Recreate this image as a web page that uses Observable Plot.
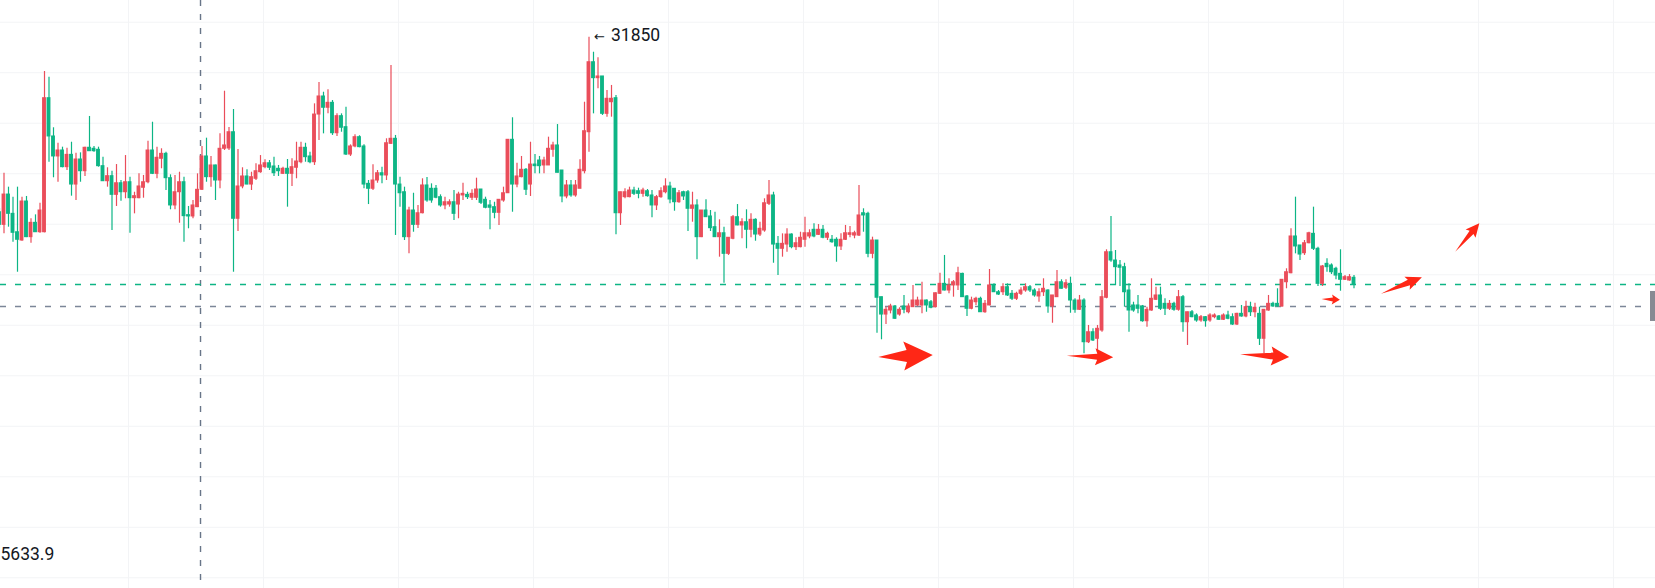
<!DOCTYPE html>
<html><head><meta charset="utf-8">
<script src="https://cdn.jsdelivr.net/npm/d3@7"></script>
<script src="https://cdn.jsdelivr.net/npm/@observablehq/plot@0.6"></script>
<style>html,body{margin:0;padding:0;background:#fff;overflow:hidden;} #chart svg{display:block;}</style>
</head><body><div id="chart"></div>
<script>
// ---- data (candle index, prices) ----
const firstIndex = -1;
const opens = [30119,29994,30294,30103,29921,29839,30225,29872,30014,29921,29921,
31248,30869,30671,30730,30565,30687,30393,30641,30525,30757,
30747,30737,30575,30426,30476,30291,30406,30317,30416,30258,
30258,30361,30416,30730,30499,30648,30697,30456,30186,30317,
30416,30090,30077,30169,30341,30671,30466,30582,30433,30747,
30750,30911,30054,30374,30473,30393,30450,30515,30565,30604,
30572,30549,30499,30549,30499,30559,30614,30757,30671,30614,
31086,31265,31153,31202,30901,31070,30961,30690,30770,30862,
30770,30400,30351,30433,30505,30483,30796,30846,30393,30317,
29872,30136,29994,30109,30384,30351,30351,30268,30186,30195,
30218,30195,30285,30291,30262,30262,30344,30242,30186,30169,
30113,30235,30307,30836,30393,30466,30539,30393,30591,30631,
30582,30582,30737,30780,30532,30275,30384,30285,30351,30525,
30911,31604,31446,31463,31093,31208,31248,30109,30268,30268,
30334,30327,30301,30327,30285,30186,30268,30317,30374,30351,
30218,30317,30317,30153,30186,29872,30136,30077,29971,29872,
29911,29707,29856,30070,29988,30020,29945,30044,29898,29938,
30202,30285,29806,29757,29799,29898,29773,29773,29846,29879,
29945,29895,29945,29866,29846,29846,29780,29846,29895,29888,
29888,30109,30103,29707,29839,29278,29106,29146,29186,29106,
29186,29129,29179,29196,29196,29245,29228,29179,29311,29410,
29344,29394,29394,29509,29285,29163,29228,29262,29129,29196,
29394,29327,29327,29377,29311,29262,29311,29344,29377,29344,
29285,29327,29344,29186,29278,29426,29371,29410,29245,29153,
29245,28832,28931,28866,28948,29272,29723,29641,29592,29575,
29344,29196,29196,29186,29040,29146,29252,29295,29212,29163,
29212,29153,29278,29030,29129,29097,29047,29080,29047,29080,
29087,29054,29097,29080,29007,29113,29087,29179,29129,29113,
28866,29146,29212,29212,29186,29426,29515,29879,29790,29713,
29812,29905,29757,29410,29608,29592,29559,29509,29450,29443,29470];
const highs = [30156,30505,30367,30268,30367,30268,30275,30054,30093,30208,31512,
31456,30955,30802,30763,30753,30812,30703,30707,30763,31067,
30770,30763,30664,30559,30525,30591,30433,30680,30466,30317,
30499,30483,30822,31010,30763,30747,30713,30489,30483,30515,
30466,30176,30235,30499,30770,30852,30671,30585,30895,31317,
30958,31136,30740,30559,30539,30515,30598,30680,30638,30631,
30664,30582,30565,30641,30648,30812,30812,30802,30713,31192,
31403,31307,31331,31225,31093,31093,31159,30786,30885,30876,
30786,30433,30588,30532,30565,30846,31572,30879,30466,30367,
30169,30307,30186,30450,30463,30400,30384,30291,30268,30242,
30334,30317,30406,30317,30341,30456,30344,30268,30235,30218,
30245,30367,30840,31054,30604,30671,30552,30812,30690,30671,
30664,30862,30812,30987,30532,30433,30433,30433,30638,31208,
31850,31703,31648,31463,31324,31374,31275,30317,30351,30367,
30367,30357,30357,30344,30334,30285,30361,30450,30416,30351,
30334,30327,30334,30317,30242,30136,30242,30136,30119,30044,
29971,29866,30087,30195,30054,30143,30103,30054,30020,30252,
30433,30317,29879,29905,29955,29905,29866,29921,30070,29945,
30004,29997,29988,29921,29889,29866,29905,29988,29978,29931,
30384,30153,30119,29872,29839,29278,29179,29208,29196,29173,
29295,29212,29394,29278,29426,29250,29245,29320,29515,29691,
29460,29443,29575,29515,29295,29278,29278,29278,29245,29552,
29410,29344,29410,29410,29344,29327,29371,29410,29394,29361,
29361,29460,29351,29295,29542,29450,29450,29476,29262,29295,
29262,28998,28965,28998,29344,29747,30077,29740,29641,29614,
29410,29228,29295,29196,29179,29460,29377,29377,29262,29245,
29228,29344,29295,29129,29146,29113,29097,29087,29113,29113,
29097,29113,29139,29113,29119,29196,29238,29228,29218,29179,
29153,29295,29228,29361,29450,29559,29955,30268,29790,29839,
29921,30169,29773,29592,29658,29608,29575,29747,29492,29502,29492];
const lows = [29958,29905,29971,29822,29525,29832,29868,29812,29918,29911,29915,
30614,30460,30416,30559,30532,30278,30235,30416,30473,30720,
30713,30565,30423,30367,29938,30176,30228,30252,29911,30103,
30252,30258,30400,30492,30450,30549,30334,30143,30143,30010,
29822,29955,30054,30165,30334,30416,30367,30235,30351,30730,
30730,29525,29928,30351,30390,30334,30433,30505,30549,30532,
30473,30473,30492,30169,30374,30450,30598,30614,30598,30582,
30829,30895,31093,30879,30869,30911,30680,30671,30757,30757,
30351,30195,30334,30406,30400,30433,30789,29889,30169,29839,
29707,29921,29958,30103,30218,30208,30252,30169,30143,30169,
30037,30054,30235,30245,30235,30235,30195,30153,29945,30054,
29988,30218,30304,30119,30361,30460,30285,30275,30499,30499,
30499,30582,30664,30509,30212,30252,30268,30268,30351,30499,
30713,31093,31341,31077,31060,31060,29895,29988,30252,30262,
30285,30252,30268,30268,30064,30136,30258,30301,30202,30129,
30208,30235,29928,30020,29648,29868,30068,29928,29868,29674,
29416,29691,29846,29985,29856,29757,29866,29832,29879,29921,
30186,29614,29493,29674,29723,29757,29740,29767,29773,29856,
29866,29889,29856,29839,29812,29624,29740,29839,29866,29856,
29879,29921,29668,29658,28921,28856,29007,29113,29057,29090,
29113,29113,29176,29186,29113,29129,29163,29173,29305,29340,
29311,29278,29344,29275,29087,29153,29196,29126,29119,29193,
29324,29295,29295,29285,29245,29245,29295,29327,29324,29278,
29228,29285,29119,29020,29275,29358,29354,29119,29119,29146,
28717,28819,28839,28730,28931,29262,29624,29394,29384,29179,
28931,29129,29113,29030,28981,29139,29245,29146,29097,29146,
29139,29139,28931,28800,29074,29030,29030,28981,29030,29064,
29047,29047,29054,28998,28998,29080,29074,29087,29074,28800,
28717,29139,29179,29179,29179,29361,29509,29707,29641,29691,
29806,29740,29384,29384,29525,29502,29450,29337,29443,29436,29361];
const closes = [29994,30294,30103,29915,29846,30225,29872,30014,29921,30136,31248,
30869,30671,30730,30565,30687,30393,30641,30525,30757,30723,
30723,30575,30426,30476,30291,30406,30317,30416,30258,30278,
30374,30416,30730,30499,30658,30697,30456,30186,30317,30416,
30080,30077,30186,30341,30671,30466,30582,30433,30747,30780,
30911,30054,30374,30473,30393,30466,30525,30582,30604,30559,
30505,30525,30549,30499,30565,30621,30757,30664,30614,31086,
31265,31153,31202,30901,31070,30955,30690,30770,30862,30763,
30393,30351,30433,30505,30483,30802,30846,30393,30307,29872,
30136,29994,30109,30384,30235,30235,30262,30186,30218,30218,
30103,30294,30301,30268,30301,30344,30212,30163,30163,30113,
30242,30307,30836,30393,30473,30539,30341,30591,30575,30575,
30631,30747,30780,30509,30275,30384,30285,30384,30539,30921,
31604,31446,31463,31093,31242,31242,30109,30317,30317,30334,
30301,30301,30334,30278,30186,30268,30327,30374,30245,30218,
30307,30275,30153,30186,29872,30136,30070,29961,29872,29911,
29707,29866,30070,29988,30020,29945,30044,29898,29955,30208,
30285,29799,29757,29806,29898,29773,29812,29866,29911,29911,
29879,29945,29866,29905,29822,29780,29846,29911,29911,29911,
30087,30087,29707,29839,29272,29106,29153,29186,29064,29153,
29153,29186,29245,29245,29245,29196,29173,29317,29410,29344,
29394,29426,29515,29278,29163,29245,29262,29129,29212,29394,
29327,29304,29377,29295,29262,29311,29344,29377,29344,29295,
29327,29361,29186,29295,29426,29361,29416,29245,29153,29245,
28832,28931,28849,28965,29278,29723,29641,29575,29569,29327,
29146,29146,29163,29040,29153,29262,29295,29163,29163,29212,
29153,29278,29030,29129,29080,29047,29080,29040,29097,29097,
29054,29097,29064,29007,29113,29087,29179,29129,29173,28866,
29153,29212,29186,29186,29450,29525,29879,29780,29700,29812,
29911,29757,29410,29582,29575,29525,29492,29450,29476,29476,29403];

// grid ticks (hidden axes): price levels and candle-index positions
const priceGrid = [32000,31500,31000,30500,30000,29500,29000,28500,28000,27500,27000,26500];
const timeGrid = [27.67,57.67,87.67,117.67,147.67,177.67,207.67,237.67,267.67,297.67,327.67,357.67];
const markerIndex = 43.67;        // vertical dashed line
const lastPrice = 29403;          // green dashed line
const refPrice = 29186;           // grey dashed line
const cornerLabel = "5633.9";

// drawn arrows: tail -> tip, in (candle index, price)
const arrowTailX = [194.4, 236.3, 274.8, 292.9, 306.1, 322.6];
const arrowTailY = [28681, 28694, 28708, 29255, 29307, 29723];
const arrowTipX  = [206.5, 246.6, 285.7, 296.97, 315.2, 327.96];
const arrowTipY  = [28700, 28678, 28681, 29248, 29470, 30004];

// ---- styles ----
const UP = "#ea4d5a", DOWN = "#0db585", GRID = "#f3f4f6";
const ARROW = "#ff2716";
const arrowShape = [ // head length, head half-width, shaft half-width, barb sweep (px)
  {head: 26, half: 14.5, shaft: 6, sweep: 3},
  {head: 16, half: 8.5, shaft: 3, sweep: 2},
  {head: 16, half: 9.5, shaft: 3.5, sweep: 2},
  {head: 7, half: 5, shaft: 2, sweep: 1},
  {head: 14, half: 7, shaft: 3, sweep: 2},
  {head: 12, half: 6.5, shaft: 2.5, sweep: 1.5}
];

const candles = opens.map((o, k) => ({i: k + firstIndex, open: o, high: highs[k], low: lows[k], close: closes[k]}));
const colorOf = d => d.close > d.open ? UP : DOWN;
const peak = candles.reduce((a, b) => b.high > a.high ? b : a);
const arrows = arrowTailX.map((x, k) => ({x1: x, y1: arrowTailY[k], x2: arrowTipX[k], y2: arrowTipY[k], s: arrowShape[k]}));

const W = 1655, H = 588;

function arrowMark(index, scales) {
  const g = d3.create("svg:g");
  for (const a of arrows) {
    const x1 = scales.x(a.x1), y1 = scales.y(a.y1), x2 = scales.x(a.x2), y2 = scales.y(a.y2);
    const dx = x2 - x1, dy = y2 - y1, L = Math.hypot(dx, dy);
    const ux = dx / L, uy = dy / L, nx = -uy, ny = ux;
    const P = (u, v) => [x1 + ux * u + nx * v, y1 + uy * u + ny * v];
    const s = a.s, hb = L - s.head;
    const pts = [P(0, 0), P(hb, -s.shaft), P(hb - s.sweep, -s.half), P(L, 0), P(hb - s.sweep, s.half), P(hb, s.shaft)];
    g.append("path").attr("d", "M" + pts.map(p => p.join(",")).join("L") + "Z").attr("fill", ARROW);
  }
  return g.node();
}
function priceBoxMark(index, scales, values, dims) {
  const g = d3.create("svg:g");
  g.append("rect").attr("x", dims.width - 5).attr("width", 10)
    .attr("y", scales.y(refPrice) - 15).attr("height", 30).attr("fill", "#878a93");
  return g.node();
}

const chart = Plot.plot({
  width: W, height: H,
  margin: 0,
  style: {background: "#fff", fontFamily: "Roboto, sans-serif"},
  x: {domain: [-0.778, 367], axis: null},
  y: {domain: [26394, 32215], axis: null},
  marks: [
    Plot.ruleY(priceGrid, {stroke: GRID, strokeWidth: 1}),
    Plot.ruleX(timeGrid, {stroke: GRID, strokeWidth: 1}),
    Plot.ruleX([markerIndex], {stroke: "#687588", strokeWidth: 1.4, strokeDasharray: "6,8"}),
    Plot.ruleY([lastPrice], {stroke: DOWN, strokeWidth: 1.4, strokeDasharray: "6,9"}),
    Plot.ruleY([refPrice], {stroke: "#7c8698", strokeWidth: 1.4, strokeDasharray: "6,9"}),
    Plot.ruleX(candles, {x: "i", y1: "low", y2: "high", stroke: colorOf, strokeWidth: 1.2}),
    Plot.rect(candles, {x1: d => d.i - 0.43, x2: d => d.i + 0.43, y1: "open", y2: "close", fill: colorOf, insetTop: -0.5, insetBottom: -0.5}),
    arrowMark,
    priceBoxMark,
    Plot.text([peak], {x: "i", y: "high", text: () => "\u2190", textAnchor: "start", dx: 5, dy: -1,
      fontSize: 13, fill: "#131722", fontFamily: "DejaVu Sans"}),
    Plot.text([peak], {x: "i", y: "high", text: d => String(d.high), textAnchor: "start", dx: 22, dy: -1.5,
      fontSize: 17.5, fill: "#131722", fontFamily: "Roboto"}),
    Plot.text([cornerLabel], {frameAnchor: "bottom-left", text: d => d, textAnchor: "start", dx: 0, dy: -28.6,
      fontSize: 17.5, fill: "#131722", fontFamily: "Roboto"})
  ]
});
document.getElementById("chart").appendChild(chart);
</script>
</body></html>
